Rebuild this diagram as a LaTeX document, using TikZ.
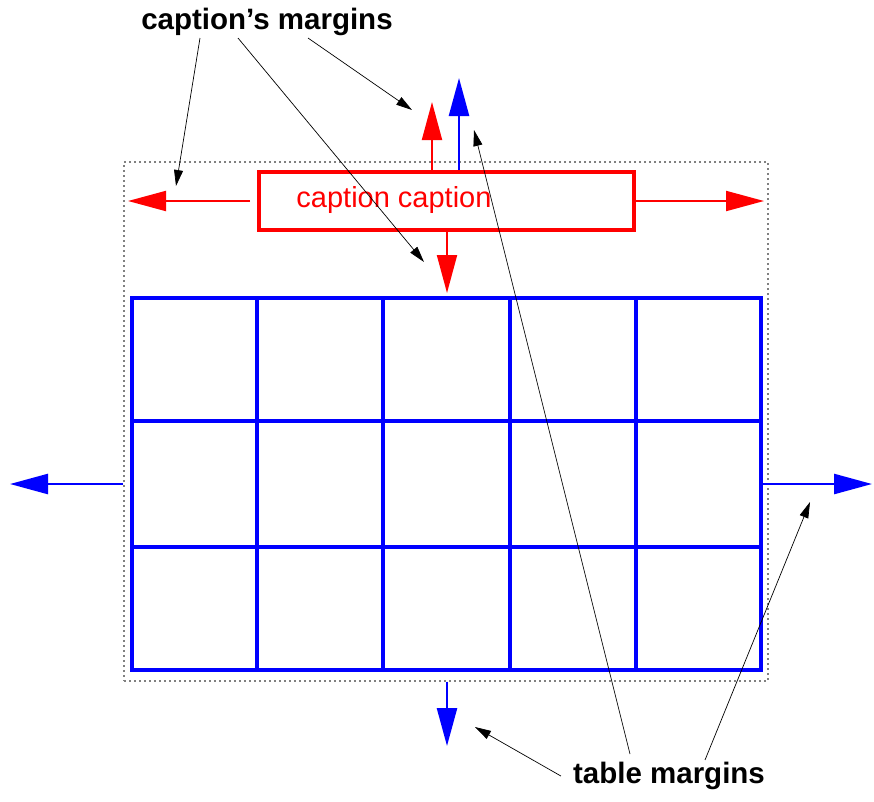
\documentclass[tikz,border=0pt]{standalone}
\usepackage{fontspec}
\setmainfont{Liberation Sans}
\usetikzlibrary{arrows.meta, positioning, calc}
\tikzset{
	capbox/.style   ={rectangle, draw=red, line width=4pt, minimum width=375pt, minimum height=58pt, inner sep=0pt},
	captxt/.style   ={red, font=\fontsize{29}{32}\selectfont, inner sep=0pt},
	tblbox/.style   ={rectangle, draw=blue, line width=4pt, minimum width=629pt, minimum height=372pt, inner sep=0pt},
	tblline/.style  ={blue, line width=4pt},
	dotbox/.style   ={rectangle, draw=gray, line width=1.2pt, dash pattern=on 1.8pt off 3.2pt, minimum width=644pt, minimum height=519pt, inner sep=0pt},
	% margin arrows
	capmargin/.style={-{Triangle[length=38pt, width=20pt]}, red, line width=2pt},
	tblmargin/.style={-{Triangle[length=38pt, width=20pt]}, blue, line width=2.5pt},
	% labels and leaders
	lbl/.style      ={font=\fontsize{29.5}{34}\selectfont\bfseries, inner sep=2pt},
	leader/.style   ={-{Triangle[length=16pt, width=9pt]}, black, line width=0.7pt},
}
\begin{document}
\begin{tikzpicture}[x=1pt, y=-1pt]
	\useasboundingbox (0,0) rectangle (874,801);
	% dotted frame
	\node[dotbox] (frame) at (446,421.5) {};
	% table
	\node[tblbox] (tbl) at (446.5,484) {};
	\foreach \f in {0.2,0.4,0.6,0.8}
		\draw[tblline] ($(tbl.north west)!\f!(tbl.north east)$) -- ($(tbl.south west)!\f!(tbl.south east)$);
	\foreach \f in {0.3333,0.6667}
		\draw[tblline] ($(tbl.north west)!\f!(tbl.south west)$) -- ($(tbl.north east)!\f!(tbl.south east)$);
	% caption
	\node[capbox] (cap) at (446.5,201) {};
	\node[captxt] (captext) at (394,200) {caption caption};
	% margin arrows
	\coordinate (capL) at (128,201);
	\coordinate (capR) at (764,201);
	\coordinate (capU) at (432,102);
	\coordinate (capD) at (447,293);
	\coordinate (tblU) at (459,78);
	\coordinate (tblL) at (10,484);
	\coordinate (tblR) at (872,484);
	\coordinate (tblD) at (447,746);
	\draw[capmargin] ([xshift=-7pt]cap.west) -- (capL);
	\draw[capmargin] (cap.east) -- (capR);
	\draw[capmargin] (cap.north -| capU) -- (capU);
	\draw[tblmargin] (cap.north -| tblU) -- (tblU);
	\draw[capmargin] (cap.south -| capD) -- (capD);
	\draw[tblmargin] ([xshift=-7pt]tbl.west) -- (tblL);
	\draw[tblmargin] (tbl.east) -- (tblR);
	\draw[tblmargin] (frame.south -| tblD) -- (tblD);
	% labels
	\node[lbl] (capm) at (267,22) {caption's margins};
	\node[lbl] (tblm) at (669,776) {table margins};
	% leaders
	\coordinate (l1) at (176,186);
	\coordinate (l2) at (424,262);
	\coordinate (l3) at (412,110);
	\coordinate (l4) at (475,727);
	\coordinate (l5) at (474,130);
	\coordinate (l6) at (810,502);
	\draw[leader] ([xshift=-67pt]capm.south) -- (l1);
	\draw[leader] ([xshift=-29pt]capm.south) -- (l2);
	\draw[leader] ([xshift=41pt]capm.south) -- (l3);
	\draw[leader] ([xshift=-10pt]tblm.west) -- (l4);
	\draw[leader] ([xshift=-39pt,yshift=6pt]tblm.north) -- (l5);
	\draw[leader] ([xshift=36pt]tblm.north) -- (l6);
\end{tikzpicture}
\end{document}
